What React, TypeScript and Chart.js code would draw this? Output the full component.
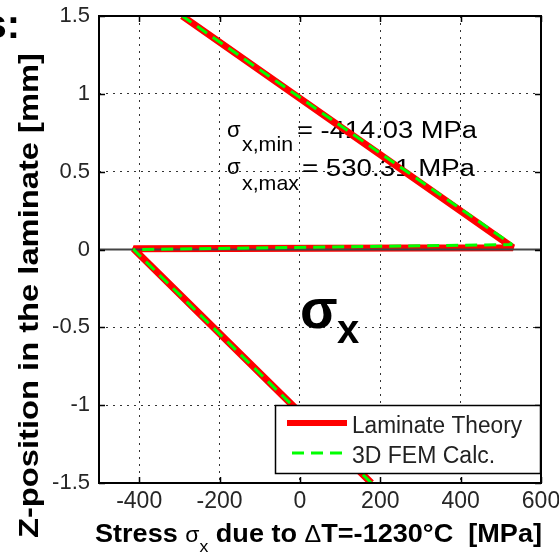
import { useEffect, useRef } from 'react';
import { Chart, registerables } from 'chart.js';

Chart.register(...registerables);

// Axis ranges and tick values
const xRange = [-500, 600];
const yRange = [-1.5, 1.5];
const xTicks = [-400, -200, 0, 200, 400, 600];
const yTicks = [-1.5, -1, -0.5, 0, 0.5, 1, 1.5];

// Laminate theory stress profile: stress [MPa] against z-position [mm]
const theoryStress = [178, -414.03, 530.31, -293];
const theoryZ = [-1.5, 0.005, 0.012, 1.5];

// 3D FEM stress profile
const femStress = [178, -414, 528, -293];
const femZ = [-1.5, 0, 0.032, 1.5];

// Layer interface at z = 0
const interfaceStress = [-500, 600];
const interfaceZ = [0, 0];

// Extreme values quoted in the plot
const sigmaMin = -414.03;
const sigmaMax = 530.31;

const FONT = '"Liberation Sans", Arial, sans-serif';

type Run = { t: string; font: string; dy?: number };

function runsWidth(ctx: CanvasRenderingContext2D, runs: Run[]) {
  let w = 0;
  for (const r of runs) {
    ctx.font = r.font;
    w += ctx.measureText(r.t).width;
  }
  return w;
}

// Draws text runs in sequence; when a width is given the runs are stretched to it
function drawRuns(
  ctx: CanvasRenderingContext2D,
  runs: Run[],
  x: number,
  y: number,
  width?: number,
  angle = 0,
) {
  const natural = runsWidth(ctx, runs);
  const sx = width ? width / natural : 1;
  ctx.save();
  ctx.translate(x, y);
  ctx.rotate(angle);
  ctx.scale(sx, 1);
  ctx.textAlign = 'left';
  ctx.textBaseline = 'alphabetic';
  let cx = 0;
  for (const r of runs) {
    ctx.font = r.font;
    ctx.fillText(r.t, cx, r.dy || 0);
    cx += ctx.measureText(r.t).width;
  }
  ctx.restore();
}

const fmt = (v: number) => v.toFixed(2);

const decorations = {
  id: 'decorations',
  beforeDatasetsDraw(chart: Chart) {
    const ctx = chart.ctx;
    ctx.save();
    ctx.fillStyle = '#000';
    // extreme value annotation
    drawRuns(ctx, [{ t: 'σ', font: `22px ${FONT}` }], 227, 137);
    drawRuns(ctx, [{ t: 'x,min', font: `21px ${FONT}` }], 242, 151, 51);
    drawRuns(ctx, [{ t: `= ${fmt(sigmaMin)} MPa`, font: `23px ${FONT}` }], 297, 138, 180);
    drawRuns(ctx, [{ t: 'σ', font: `22px ${FONT}` }], 227, 174);
    drawRuns(ctx, [{ t: 'x,max', font: `21px ${FONT}` }], 242, 190, 57);
    drawRuns(ctx, [{ t: `= ${fmt(sigmaMax)} MPa`, font: `23px ${FONT}` }], 302, 176, 173);
    // stress component label
    drawRuns(ctx, [{ t: 'σ', font: `bold 55px ${FONT}` }], 300, 328);
    drawRuns(ctx, [{ t: 'x', font: `bold 40px ${FONT}` }], 337, 343);
    ctx.restore();
  },
  afterDatasetsDraw(chart: Chart) {
    const ctx = chart.ctx;
    const { left, right, top, bottom } = chart.chartArea;
    const xs = chart.scales.x;
    const ys = chart.scales.y;
    ctx.save();
    // inward tick marks on all four sides
    ctx.strokeStyle = '#000';
    ctx.lineWidth = 1.5;
    ctx.beginPath();
    for (const v of xTicks) {
      const px = Math.round(xs.getPixelForValue(v)) + 0.5;
      ctx.moveTo(px, bottom);
      ctx.lineTo(px, bottom - 6);
      ctx.moveTo(px, top);
      ctx.lineTo(px, top + 6);
    }
    for (const v of yTicks) {
      const py = Math.round(ys.getPixelForValue(v)) + 0.5;
      ctx.moveTo(left, py);
      ctx.lineTo(left + 6, py);
      ctx.moveTo(right, py);
      ctx.lineTo(right - 6, py);
    }
    ctx.stroke();
    // axes box
    ctx.lineWidth = 2;
    ctx.strokeRect(left, top, right - left, bottom - top);

    // legend
    const lx = 275.5, ly = 405.5, lw = 265, lh = 68;
    ctx.fillStyle = '#fff';
    ctx.fillRect(lx, ly, lw, lh);
    ctx.lineWidth = 1.5;
    ctx.strokeStyle = '#000';
    ctx.strokeRect(lx, ly, lw, lh);
    ctx.lineCap = 'butt';
    ctx.strokeStyle = '#ff0000';
    ctx.lineWidth = 6;
    ctx.beginPath();
    ctx.moveTo(287, 423);
    ctx.lineTo(347, 423);
    ctx.stroke();
    ctx.strokeStyle = '#00ff00';
    ctx.lineWidth = 3;
    ctx.setLineDash([12, 7]);
    ctx.beginPath();
    ctx.moveTo(292, 453);
    ctx.lineTo(346, 453);
    ctx.stroke();
    ctx.setLineDash([]);
    ctx.fillStyle = '#222';
    drawRuns(ctx, [{ t: 'Laminate Theory', font: `23px ${FONT}` }], 352, 433, 170);
    drawRuns(ctx, [{ t: '3D FEM Calc.', font: `23px ${FONT}` }], 352, 463);
    ctx.restore();
  },
  afterDraw(chart: Chart) {
    const ctx = chart.ctx;
    ctx.save();
    ctx.fillStyle = '#000';
    const B = `bold 26px ${FONT}`;
    drawRuns(
      ctx,
      [
        { t: 'Stress ', font: B },
        { t: 'σ', font: `22px ${FONT}` },
        { t: 'x', font: `17px ${FONT}`, dy: 10 },
        { t: ' due to ', font: B },
        { t: 'Δ', font: `24px ${FONT}` },
        { t: 'T=-1230°C  [MPa]', font: B },
      ],
      95,
      542,
      447,
    );
    drawRuns(
      ctx,
      [{ t: 'Z-position in the laminate [mm]', font: `bold 28px ${FONT}` }],
      38,
      538,
      485,
      -Math.PI / 2,
    );
    ctx.font = `bold 40px ${FONT}`;
    ctx.textAlign = 'right';
    ctx.fillText('s:', 20, 38);
    ctx.restore();
  },
};

function points(xs: number[], ys: number[]) {
  return xs.map((x, i) => ({ x, y: ys[i] }));
}

export default function App() {
  const ref = useRef<HTMLCanvasElement | null>(null);

  useEffect(() => {
    const canvas = ref.current;
    if (!canvas) return;
    const chart = new Chart(canvas, {
      type: 'scatter',
      data: {
        datasets: [
          {
            label: '3D FEM Calc.',
            data: points(femStress, femZ),
            showLine: true,
            borderColor: '#00ff00',
            borderWidth: 3,
            borderDash: [12, 7],
            borderJoinStyle: 'bevel',
            borderCapStyle: 'butt',
            pointRadius: 0,
            order: 1,
          },
          {
            label: 'interface',
            data: points(interfaceStress, interfaceZ),
            showLine: true,
            borderColor: '#444',
            borderWidth: 2,
            pointRadius: 0,
            order: 2,
          },
          {
            label: 'Laminate Theory',
            data: points(theoryStress, theoryZ),
            showLine: true,
            borderColor: '#ff0000',
            borderWidth: 7,
            borderJoinStyle: 'bevel',
            borderCapStyle: 'butt',
            pointRadius: 0,
            order: 3,
          },
        ],
      },
      options: {
        animation: false,
        responsive: false,
        devicePixelRatio: 1,
        layout: { padding: { top: 16, right: 18, left: 0, bottom: 0 } },
        plugins: {
          legend: { display: false },
          tooltip: { enabled: false },
        },
        scales: {
          x: {
            type: 'linear',
            min: xRange[0],
            max: xRange[1],
            afterBuildTicks: (s: any) => {
              s.ticks = xTicks.map((value) => ({ value }));
            },
            afterFit: (s: any) => {
              s.height = 70;
              s.paddingLeft = 0;
              s.paddingRight = 0;
            },
            ticks: {
              autoSkip: false,
              maxRotation: 0,
              padding: 5,
              color: '#262626',
              font: { family: FONT, size: 23 },
              callback: (v: any) => String(v),
            },
            grid: { color: '#333', lineWidth: 1, drawTicks: false },
            border: { display: false, dash: [2, 5] },
          },
          y: {
            type: 'linear',
            min: yRange[0],
            max: yRange[1],
            afterBuildTicks: (s: any) => {
              s.ticks = yTicks.map((value) => ({ value }));
            },
            afterFit: (s: any) => {
              s.width = 99;
              s.paddingTop = 0;
              s.paddingBottom = 0;
            },
            ticks: {
              autoSkip: false,
              padding: 9,
              color: '#262626',
              font: { family: FONT, size: 22 },
              callback: (v: any) => String(v),
            },
            grid: { color: '#333', lineWidth: 1, drawTicks: false },
            border: { display: false, dash: [2, 5] },
          },
        },
      },
      plugins: [decorations],
    } as any);
    return () => chart.destroy();
  }, []);

  return (
    <div style={{ position: 'fixed', left: 0, top: 0, width: 559, height: 553, background: '#fff' }}>
      <canvas ref={ref} width={559} height={553} style={{ display: 'block' }} />
    </div>
  );
}
